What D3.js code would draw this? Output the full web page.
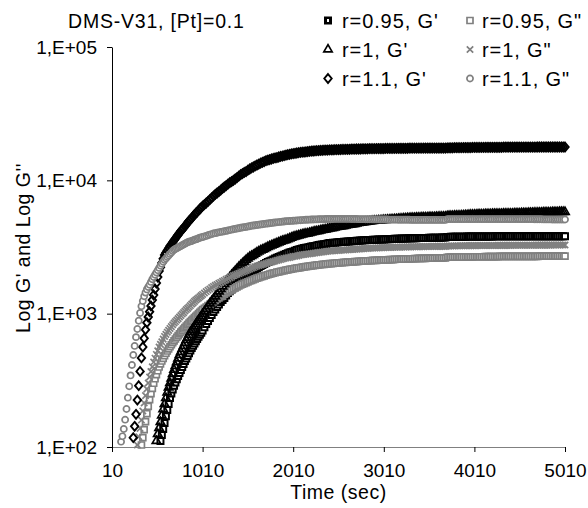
<!DOCTYPE html>
<html><head><meta charset="utf-8">
<script src="https://cdn.jsdelivr.net/npm/d3@7"></script>
<style>
body{margin:0;background:#fff}
svg{display:block}
text{font-family:"Liberation Sans",Arial,sans-serif;fill:#000}
</style>
</head><body><svg id="c" width="588" height="508"></svg>
<script>
// ---------------- DATA ----------------
const chartTitle = "DMS-V31, [Pt]=0.1";
const xTitle = "Time (sec)";
const yTitle = "Log G' and Log G''";
const xTickValues = [10, 1010, 2010, 3010, 4010, 5010];
const yTickValues = [100, 1000, 10000, 100000];
const yTickLabels = ["1,E+02", "1,E+03", "1,E+04", "1,E+05"];

// sampling times (sec)
const times = [
110,125,140,155,170,185,200,215,230,245,260,275,290,305,320,335,350,365,380,395,
410,425,440,455,470,485,500,515,530,545,560,575,590,605,620,635,650,665,680,695,
710,725,740,755,770,785,800,815,830,845,860,875,890,905,920,935,950,965,980,995,1010,
1030,1050,1070,1090,1110,1130,1150,1170,1190,1210,
1230,1250,1270,1290,1310,1330,1350,1370,1390,1410,
1430,1450,1470,1490,1510,1530,1550,1570,1590,1610,
1630,1650,1670,1690,1710,1730,1750,1770,1790,1810,
1830,1850,1870,1890,1910,1930,1950,1970,1990,2010,
2030,2050,2070,2090,2110,2130,2150,2170,2190,2210,
2230,2250,2270,2290,2310,2330,2350,2370,2390,2410,
2430,2450,2470,2490,2510,2530,2550,2570,2590,2610,
2630,2650,2670,2690,2710,2730,2750,2770,2790,2810,
2830,2850,2870,2890,2910,2930,2950,2970,2990,3010,
3030,3050,3070,3090,3110,3130,3150,3170,3190,3210,
3230,3250,3270,3290,3310,3330,3350,3370,3390,3410,
3430,3450,3470,3490,3510,3530,3550,3570,3590,3610,
3630,3650,3670,3690,3710,3730,3750,3770,3790,3810,
3830,3850,3870,3890,3910,3930,3950,3970,3990,4010,
4030,4050,4070,4090,4110,4130,4150,4170,4190,4210,
4230,4250,4270,4290,4310,4330,4350,4370,4390,4410,
4430,4450,4470,4490,4510,4530,4550,4570,4590,4610,
4630,4650,4670,4690,4710,4730,4750,4770,4790,4810,
4830,4850,4870,4890,4910,4930,4950,4970,4990,5010];

// log10 of modulus (Pa), one value per sampling time (null = below 1,E+02)
// r=0.95, G'
const logG_r095_Gp = [
null,null,null,null,null,null,null,null,null,null,null,null,null,null,null,null,null,null,null,null,
null,null,null,null,null,null,null,null,null,
2.045,2.09,2.135,2.18,2.23,2.277,2.322,2.367,2.401,2.431,
2.459,2.484,2.509,2.532,2.555,2.577,2.6,2.622,2.645,2.664,
2.683,2.703,2.723,2.742,2.759,2.776,2.793,2.81,2.827,2.842,
2.856,2.874,
2.898,2.922,2.945,2.967,2.990,3.012,3.031,3.050,3.069,3.087,
3.102,3.117,3.136,3.155,3.168,3.181,3.194,3.207,3.219,3.230,
3.241,3.252,3.264,3.275,3.286,3.297,3.309,3.320,3.330,3.339,
3.348,3.357,3.365,3.372,3.380,3.387,3.393,3.399,3.406,3.414,
3.420,3.425,3.430,3.436,3.442,3.447,3.453,3.459,3.462,3.466,
3.472,3.477,3.481,3.485,3.489,3.492,3.494,3.496,3.500,3.504,
3.506,3.507,3.511,3.515,3.517,3.519,3.521,3.522,3.526,3.530,
3.530,3.531,3.532,3.534,3.535,3.537,3.538,3.539,3.540,3.541,
3.542,3.543,3.544,3.545,3.546,3.547,3.548,3.549,3.550,3.551,
3.552,3.552,3.553,3.554,3.554,3.555,3.556,3.556,3.557,3.557,
3.558,3.558,3.559,3.560,3.560,3.561,3.561,3.562,3.562,3.563,
3.563,3.564,3.564,3.565,3.565,3.566,3.566,3.566,3.567,3.567,
3.567,3.568,3.568,3.568,3.569,3.569,3.569,3.570,3.570,3.570,
3.570,3.571,3.571,3.571,3.575,3.575,3.576,3.576,3.576,3.576,
3.577,3.577,3.577,3.577,3.577,3.578,3.578,3.578,3.578,3.578,
3.578,3.578,3.578,3.579,3.579,3.579,3.579,3.579,3.579,3.579,
3.580,3.580,3.580,3.580,3.580,3.580,3.580,3.580,3.580,3.580,
3.580,3.580,3.580,3.580,3.580,3.580,3.580,3.580,3.580,3.580,
3.580,3.580,3.580,3.581,3.581,3.581,3.581,3.581,3.581,3.581,
3.581,3.581,3.581,3.581,3.581,3.581,3.581,3.581,3.581,3.581];
// r=0.95, G''
const logG_r095_Gpp = [
null,null,null,null,null,null,null,null,null,null,null,null,null,null,null,
2.015,2.07,2.13,2.19,2.25,2.305,2.355,2.40,2.44,2.478,
2.512,2.543,2.572,2.60,2.624,2.645,2.665,2.685,2.703,2.72,
2.736,2.752,2.767,2.782,2.796,2.81,2.823,2.836,2.849,2.861,
2.873,2.885,2.896,2.907,2.918,2.929,2.94,2.95,2.96,2.97,
2.98,2.99,3.0,3.01,3.02,3.03,
3.040,3.050,3.060,3.070,3.080,3.090,3.100,3.110,3.119,3.128,
3.137,3.146,3.155,3.163,3.171,3.179,3.187,3.194,3.201,3.208,
3.215,3.221,3.227,3.233,3.239,3.245,3.250,3.256,3.261,3.266,
3.271,3.275,3.280,3.284,3.288,3.292,3.296,3.300,3.304,3.307,
3.311,3.314,3.317,3.320,3.323,3.326,3.329,3.332,3.334,3.337,
3.339,3.342,3.344,3.346,3.349,3.351,3.353,3.355,3.357,3.359,
3.361,3.362,3.364,3.366,3.367,3.369,3.370,3.372,3.373,3.375,
3.376,3.377,3.378,3.380,3.381,3.382,3.383,3.384,3.385,3.386,
3.387,3.388,3.389,3.390,3.391,3.392,3.393,3.394,3.395,3.395,
3.396,3.397,3.398,3.399,3.399,3.400,3.401,3.402,3.402,3.403,
3.404,3.404,3.405,3.406,3.406,3.407,3.408,3.408,3.409,3.409,
3.410,3.410,3.411,3.411,3.412,3.412,3.413,3.413,3.414,3.414,
3.415,3.415,3.415,3.416,3.416,3.417,3.417,3.417,3.418,3.418,
3.418,3.419,3.419,3.419,3.423,3.424,3.424,3.424,3.424,3.425,
3.425,3.425,3.425,3.425,3.426,3.426,3.426,3.426,3.426,3.427,
3.427,3.427,3.427,3.427,3.427,3.428,3.428,3.428,3.428,3.428,
3.428,3.428,3.428,3.429,3.429,3.429,3.429,3.429,3.429,3.429,
3.429,3.430,3.430,3.430,3.430,3.430,3.430,3.430,3.430,3.430,
3.430,3.430,3.430,3.430,3.430,3.431,3.431,3.431,3.431,3.431,
3.431,3.431,3.431,3.431,3.431,3.431,3.431,3.431,3.431,3.431];
// r=1, G'
const logG_r1_Gp = [
null,null,null,null,null,null,null,null,null,null,null,null,null,null,null,null,null,null,null,null,
null,null,null,null,null,null,
2.045,2.097,2.142,2.187,2.236,2.283,2.322,2.367,2.409,2.446,
2.48,2.514,2.548,2.58,2.607,2.636,2.664,2.69,2.712,2.735,
2.757,2.78,2.802,2.819,2.84,2.86,2.874,2.888,2.904,2.921,
2.937,2.951,2.966,2.98,2.997,
3.016,3.035,3.056,3.076,3.093,3.110,3.129,3.148,3.166,3.185,
3.204,3.222,3.239,3.256,3.273,3.290,3.305,3.320,3.335,3.350,
3.363,3.376,3.389,3.402,3.414,3.425,3.433,3.440,3.450,3.459,
3.467,3.474,3.480,3.485,3.492,3.500,3.506,3.511,3.517,3.522,
3.528,3.534,3.540,3.545,3.549,3.552,3.558,3.564,3.569,3.575,
3.579,3.582,3.586,3.590,3.594,3.597,3.599,3.601,3.605,3.609,
3.612,3.616,3.618,3.620,3.624,3.627,3.629,3.631,3.635,3.639,
3.641,3.642,3.646,3.650,3.652,3.654,3.656,3.657,3.661,3.665,
3.667,3.669,3.671,3.672,3.676,3.680,3.682,3.684,3.686,3.687,
3.689,3.691,3.693,3.695,3.696,3.697,3.698,3.699,3.701,3.702,
3.703,3.704,3.705,3.706,3.707,3.708,3.709,3.710,3.711,3.712,
3.713,3.714,3.715,3.716,3.717,3.717,3.718,3.719,3.720,3.720,
3.721,3.721,3.722,3.722,3.723,3.723,3.724,3.724,3.725,3.725,
3.726,3.726,3.727,3.727,3.731,3.732,3.733,3.733,3.734,3.734,
3.735,3.735,3.736,3.737,3.738,3.739,3.740,3.741,3.741,3.742,
3.742,3.743,3.743,3.744,3.744,3.745,3.745,3.746,3.746,3.747,
3.747,3.747,3.748,3.748,3.748,3.749,3.749,3.749,3.750,3.750,
3.750,3.751,3.751,3.752,3.752,3.753,3.753,3.754,3.754,3.755,
3.755,3.755,3.756,3.756,3.757,3.757,3.757,3.758,3.758,3.758,
3.759,3.759,3.760,3.760,3.761,3.761,3.762,3.762,3.763,3.763];
// r=1, G''
const logG_r1_Gpp = [
null,null,null,null,null,null,null,null,null,null,null,null,
2.015,2.077,2.139,2.202,2.27,2.33,2.385,2.435,2.48,2.525,
2.565,2.601,2.637,2.666,2.694,2.722,2.75,2.77,2.789,2.809,
2.829,2.845,2.861,2.875,2.889,2.903,2.917,2.93,2.941,2.952,
2.963,2.975,2.986,2.997,3.008,3.02,3.031,3.04,3.05,3.061,
3.072,3.081,3.092,3.102,3.11,3.118,3.127,3.135,3.144,
3.155,3.166,3.176,3.185,3.195,3.204,3.212,3.219,3.227,3.234,
3.242,3.249,3.257,3.264,3.272,3.279,3.285,3.290,3.296,3.301,
3.307,3.313,3.318,3.324,3.330,3.335,3.341,3.346,3.352,3.357,
3.361,3.365,3.369,3.372,3.376,3.380,3.384,3.387,3.391,3.395,
3.399,3.402,3.406,3.410,3.414,3.417,3.419,3.421,3.425,3.429,
3.431,3.432,3.436,3.440,3.442,3.444,3.446,3.447,3.449,3.451,
3.453,3.455,3.457,3.459,3.461,3.462,3.464,3.466,3.468,3.470,
3.471,3.472,3.473,3.474,3.475,3.476,3.477,3.477,3.478,3.479,
3.480,3.481,3.482,3.483,3.484,3.485,3.486,3.487,3.488,3.489,
3.490,3.491,3.492,3.492,3.493,3.493,3.494,3.494,3.495,3.495,
3.496,3.496,3.497,3.497,3.498,3.498,3.499,3.499,3.499,3.500,
3.500,3.500,3.501,3.501,3.501,3.502,3.502,3.502,3.503,3.503,
3.503,3.503,3.504,3.504,3.504,3.504,3.505,3.505,3.505,3.505,
3.505,3.505,3.505,3.505,3.507,3.508,3.508,3.508,3.508,3.509,
3.509,3.509,3.509,3.509,3.510,3.510,3.510,3.510,3.510,3.510,
3.510,3.511,3.511,3.511,3.511,3.511,3.511,3.511,3.511,3.511,
3.511,3.511,3.512,3.512,3.512,3.512,3.512,3.512,3.512,3.512,
3.513,3.513,3.513,3.513,3.513,3.513,3.513,3.513,3.513,3.513,
3.513,3.513,3.513,3.514,3.514,3.514,3.514,3.514,3.514,3.514,
3.514,3.514,3.515,3.515,3.515,3.515,3.515,3.515,3.515,3.515];
// r=1.1, G'
const logG_r11_Gp = [
null,null,null,null,null,null,null,null,null,
2.07,2.155,2.245,2.352,2.46,2.567,2.668,2.75,2.815,2.88,
2.932,2.975,3.015,3.058,3.102,3.14,3.185,3.23,3.275,3.32,
3.348,3.38,3.412,3.44,3.457,3.474,3.49,3.507,3.521,3.535,
3.55,3.564,3.578,3.592,3.606,3.62,3.631,3.642,3.655,3.669,
3.683,3.695,3.706,3.717,3.729,3.742,3.754,3.762,3.774,3.785,
3.796,3.807,
3.818,3.830,3.843,3.856,3.869,3.882,3.894,3.905,3.916,3.927,
3.939,3.950,3.961,3.972,3.982,3.991,4.000,4.010,4.021,4.032,
4.042,4.051,4.059,4.066,4.076,4.085,4.093,4.100,4.108,4.115,
4.122,4.129,4.135,4.141,4.147,4.152,4.156,4.160,4.164,4.168,
4.171,4.175,4.179,4.182,4.186,4.189,4.192,4.195,4.198,4.201,
4.203,4.205,4.207,4.209,4.211,4.212,4.214,4.216,4.218,4.219,
4.220,4.221,4.222,4.223,4.224,4.225,4.226,4.227,4.227,4.228,
4.229,4.229,4.230,4.230,4.231,4.231,4.232,4.232,4.233,4.233,
4.233,4.234,4.234,4.234,4.235,4.235,4.235,4.236,4.236,4.236,
4.236,4.237,4.237,4.237,4.237,4.238,4.238,4.238,4.238,4.238,
4.239,4.239,4.239,4.239,4.239,4.239,4.240,4.240,4.240,4.240,
4.240,4.240,4.240,4.241,4.241,4.241,4.241,4.241,4.241,4.241,
4.241,4.242,4.242,4.242,4.242,4.242,4.242,4.242,4.242,4.242,
4.242,4.242,4.242,4.242,4.243,4.244,4.244,4.244,4.245,4.245,
4.245,4.245,4.245,4.246,4.246,4.246,4.246,4.246,4.247,4.247,
4.247,4.247,4.247,4.247,4.247,4.248,4.248,4.248,4.248,4.248,
4.248,4.248,4.248,4.248,4.248,4.249,4.249,4.249,4.249,4.249,
4.249,4.249,4.249,4.249,4.249,4.249,4.249,4.249,4.249,4.249,
4.249,4.249,4.249,4.249,4.250,4.250,4.250,4.250,4.250,4.250,
4.250,4.250,4.250,4.250,4.250,4.250,4.250,4.250,4.250,4.250];
// r=1.1, G''
const logG_r11_Gpp = [
2.04,2.08,2.135,2.205,2.285,2.37,2.455,2.537,2.615,2.69,
2.758,2.824,2.885,2.947,3.005,3.055,3.095,3.13,3.158,3.182,
3.2,3.217,3.238,3.258,3.275,3.292,3.309,3.326,3.343,3.36,
3.375,3.389,3.403,3.414,3.425,3.436,3.448,3.459,3.47,3.479,
3.485,3.491,3.496,3.502,3.508,3.513,3.519,3.524,3.53,3.536,
3.539,3.542,3.545,3.55,3.554,3.557,3.56,3.566,3.569,3.572,
3.575,
3.579,3.583,3.588,3.593,3.597,3.601,3.604,3.607,3.610,3.613,
3.615,3.618,3.621,3.624,3.627,3.630,3.633,3.636,3.639,3.641,
3.644,3.646,3.649,3.651,3.654,3.656,3.659,3.661,3.663,3.665,
3.667,3.669,3.671,3.673,3.675,3.676,3.678,3.680,3.682,3.684,
3.685,3.687,3.688,3.690,3.691,3.693,3.694,3.695,3.696,3.697,
3.698,3.699,3.700,3.701,3.702,3.703,3.704,3.704,3.705,3.706,
3.706,3.707,3.707,3.708,3.708,3.709,3.709,3.710,3.710,3.710,
3.710,3.711,3.711,3.711,3.711,3.711,3.711,3.711,3.711,3.711,
3.711,3.710,3.710,3.710,3.710,3.709,3.709,3.709,3.709,3.708,
3.708,3.708,3.708,3.707,3.707,3.707,3.707,3.706,3.706,3.706,
3.706,3.706,3.705,3.705,3.705,3.705,3.705,3.704,3.704,3.704,
3.704,3.704,3.704,3.704,3.703,3.703,3.703,3.703,3.703,3.703,
3.703,3.703,3.703,3.703,3.703,3.703,3.703,3.703,3.703,3.703,
3.703,3.703,3.703,3.703,3.708,3.709,3.709,3.709,3.709,3.709,
3.709,3.709,3.709,3.709,3.709,3.709,3.709,3.709,3.709,3.709,
3.709,3.709,3.709,3.709,3.709,3.709,3.709,3.709,3.709,3.709,
3.709,3.709,3.709,3.709,3.709,3.709,3.709,3.709,3.709,3.709,
3.709,3.709,3.709,3.709,3.709,3.709,3.709,3.709,3.709,3.709,
3.709,3.709,3.708,3.708,3.708,3.708,3.708,3.707,3.707,3.707,
3.707,3.707,3.706,3.706,3.706,3.706,3.706,3.706,3.706,3.706];

const seriesNames = ["r=0.95, G'", "r=0.95, G\"", "r=1, G'", "r=1, G\"", "r=1.1, G'", "r=1.1, G\""];
const seriesLogValues = [logG_r095_Gp, logG_r095_Gpp, logG_r1_Gp, logG_r1_Gpp, logG_r11_Gp, logG_r11_Gpp];

// ---------------- STYLE ----------------
const GRAY = "#808080";
const styles = [
  {shape:"square",  stroke:"#000", sw:2.0, fill:"#fff"},
  {shape:"square",  stroke:GRAY,   sw:1.7, fill:"#fff"},
  {shape:"triangle",stroke:"#000", sw:1.7, fill:"none"},
  {shape:"x",       stroke:GRAY,   sw:1.7, fill:"none"},
  {shape:"diamond", stroke:"#000", sw:1.9, fill:"none"},
  {shape:"circle",  stroke:GRAY,   sw:1.7, fill:"#fff"}
];
function shapePath(s){
  if (s==="square") return d3.symbol(d3.symbolSquare, 36)();
  if (s==="triangle") return d3.symbol(d3.symbolTriangle, 30)();
  if (s==="circle") return d3.symbol(d3.symbolCircle, 30)();
  if (s==="diamond") return "M0,-4.4L3.7,0L0,4.4L-3.7,0Z";
  if (s==="x") return "M-3.2,-3.2L3.2,3.2M-3.2,3.2L3.2,-3.2";
}

// ---------------- CHART ----------------
const svg = d3.select("#c");
const L = 112, R = 565, T = 47, B = 447;
const x = d3.scaleLinear().domain([10, 5010]).range([L, R]);
const y = d3.scaleLog().domain([100, 100000]).range([B, T]);

svg.append("text").attr("x", 68).attr("y", 28)
  .style("font-size","19.5px").style("letter-spacing","0.8px").text(chartTitle);

const yAxis = d3.axisLeft(y).tickValues(yTickValues)
  .tickFormat((d,i)=>yTickLabels[i]).tickSize(5).tickSizeOuter(0).tickPadding(10);
const gy = svg.append("g").attr("transform",`translate(${L},0)`).call(yAxis);
gy.select(".domain").attr("stroke","#000");
gy.selectAll(".tick line").attr("stroke","#000");
gy.selectAll("text").style("font-size","19px").attr("fill","#000");

const xAxis = d3.axisBottom(x).tickValues(xTickValues).tickFormat(d3.format("d"))
  .tickSize(5).tickSizeOuter(0).tickPadding(12);
const gx = svg.append("g").attr("transform",`translate(0,${B})`).call(xAxis);
gx.select(".domain").attr("stroke",GRAY);
gx.selectAll(".tick line").attr("stroke","#000");
gx.selectAll("text").style("font-size","19px").attr("fill","#000");

svg.append("text").attr("x", (L+R)/2).attr("y", 499).attr("text-anchor","middle")
  .style("font-size","19.5px").style("letter-spacing","0.5px").text(xTitle);
svg.append("text").attr("transform",`translate(30,248) rotate(-90)`).attr("text-anchor","middle")
  .style("font-size","19.5px").style("letter-spacing","0.5px").text(yTitle);

// data markers
seriesLogValues.forEach((vals, si) => {
  const st = styles[si];
  const pts = times.map((t,i)=>({t, v: vals[i]})).filter(d => d.v != null);
  svg.append("g").selectAll("path").data(pts).join("path")
    .attr("transform", d => `translate(${x(d.t)},${y(Math.pow(10, d.v))})`)
    .attr("d", shapePath(st.shape))
    .attr("fill", st.fill).attr("stroke", st.stroke).attr("stroke-width", st.sw);
});

// legend
const legX = [328, 470], legTextX = [342, 482], legY = [20.5, 49.5, 78.5];
seriesNames.forEach((name, si) => {
  const col = si % 2, row = Math.floor(si/2);
  const st = styles[si];
  svg.append("path").attr("transform",`translate(${legX[col]},${legY[row]})`)
    .attr("d", shapePath(st.shape)).attr("fill", si===0 ? "#000" : "#fff")
    .attr("stroke", st.stroke).attr("stroke-width", st.sw);
  if (si===0) svg.append("rect").attr("x",legX[col]-1).attr("y",legY[row]-1.5).attr("width",2).attr("height",3).attr("fill","#fff");
  svg.append("text").attr("x", legTextX[col]).attr("y", legY[row]+7)
    .style("font-size","20px").style("letter-spacing","0.9px").text(name);
});
</script>
</body></html>
